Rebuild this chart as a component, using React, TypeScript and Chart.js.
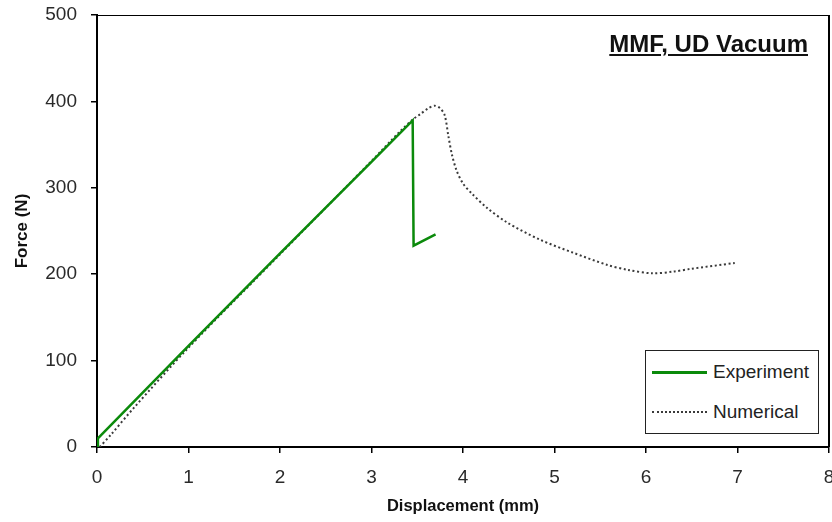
import React, { useEffect, useRef } from "react";
import { Chart, registerables } from "chart.js";

Chart.register(...registerables);

const expX = [0, 0.01, 1, 2, 3, 3.45, 3.46, 3.7];
const expY = [0, 10, 117, 224, 330, 378, 233, 246];

const numX = [0.03, 0.15, 0.4, 1, 2, 3, 3.3, 3.45, 3.53, 3.62, 3.69, 3.75, 3.8, 3.84, 3.88, 3.93, 4.0, 4.1, 4.26, 4.48, 4.84, 5.2, 5.57, 5.8, 6.07, 6.3, 6.48, 6.97];
const numY = [0, 14, 45, 115, 223, 331, 364, 379, 385, 392, 395, 392, 384, 360, 338, 320, 305, 293, 277, 260, 240, 225, 211, 205, 201, 203, 206, 213];

const xTicks = [0, 1, 2, 3, 4, 5, 6, 7, 8];
const yTicks = [0, 100, 200, 300, 400, 500];

const titleText = "MMF, UD Vacuum";
const xTitle = "Displacement (mm)";
const yTitle = "Force (N)";
const legendLabels = ["Experiment", "Numerical"];

const GREEN = "#0b8a0b";
const DOT = "#3a3a3a";
const FONT = "'Liberation Sans', Arial, sans-serif";

const framePlugin = {
  id: "frame",
  afterDatasetsDraw(chart: any) {
    const { ctx, chartArea: a } = chart;
    ctx.save();
    ctx.strokeStyle = "#000";
    ctx.lineWidth = 1;
    ctx.beginPath();
    ctx.moveTo(a.left, a.top + 0.5);
    ctx.lineTo(a.right, a.top + 0.5);
    ctx.stroke();
    ctx.lineWidth = 2;
    ctx.beginPath();
    ctx.moveTo(a.right, a.top);
    ctx.lineTo(a.right, a.bottom);
    ctx.stroke();
    ctx.restore();
  },
};

export default function App() {
  const ref = useRef<HTMLCanvasElement>(null);
  useEffect(() => {
    const chart = new Chart(ref.current!, {
      type: "line",
      data: {
        datasets: [
          {
            label: legendLabels[0],
            data: expX.map((x, i) => ({ x, y: expY[i] })),
            borderColor: GREEN,
            borderWidth: 2.5,
            pointRadius: 0,
            tension: 0,
          },
          {
            label: legendLabels[1],
            data: numX.map((x, i) => ({ x, y: numY[i] })),
            borderColor: DOT,
            borderWidth: 2,
            borderDash: [2, 2.6],
            pointRadius: 0,
            tension: 0.3,
          },
        ],
      },
      options: {
        animation: false,
        responsive: false,
        layout: { padding: { left: 0, right: 3, top: 15, bottom: 0 } },
        plugins: { legend: { display: false }, tooltip: { enabled: false } },
        scales: {
          x: {
            type: "linear",
            min: 0,
            max: 8,
            afterBuildTicks: (s: any) => {
              s.ticks = xTicks.map((v) => ({ value: v }));
            },
            afterFit: (s: any) => {
              s.height = 75;
              s.paddingRight = 0;
              s.paddingLeft = 0;
            },
            ticks: { font: { family: FONT, size: 19 }, color: "#2a2a2a", padding: 13, maxRotation: 0 },
            grid: { drawOnChartArea: false, drawTicks: true, tickLength: 6, color: "#000", lineWidth: 1.5 },
            border: { display: true, color: "#000", width: 2 },
            title: { display: true, text: xTitle, font: { family: FONT, size: 16.5, weight: "bold" }, color: "#111", padding: { top: 0, bottom: 6 } },
          },
          y: {
            type: "linear",
            min: 0,
            max: 500,
            afterBuildTicks: (s: any) => {
              s.ticks = yTicks.map((v) => ({ value: v }));
            },
            afterFit: (s: any) => {
              s.width = 97;
              s.paddingTop = 0;
              s.paddingBottom = 0;
            },
            ticks: { font: { family: FONT, size: 19 }, color: "#2a2a2a", padding: 14 },
            grid: { drawOnChartArea: false, drawTicks: true, tickLength: 6, color: "#000", lineWidth: 1.5 },
            border: { display: true, color: "#000", width: 2 },
            title: { display: true, text: yTitle, font: { family: FONT, size: 17, weight: "bold" }, color: "#111", padding: { top: 12, bottom: 0 } },
          },
        },
      },
      plugins: [framePlugin],
    } as any);
    return () => chart.destroy();
  }, []);

  return (
    <div style={{ position: "absolute", left: 0, top: 0, width: 832, height: 522, background: "#fff" }}>
      <canvas ref={ref} width={832} height={522} style={{ width: 832, height: 522, display: "block" }} />
      <div
        style={{
          position: "absolute",
          right: 24,
          top: 30,
          fontFamily: FONT,
          fontWeight: "bold",
          fontSize: 24,
          color: "#111",
          textDecoration: "underline",
          whiteSpace: "nowrap",
        }}
      >
        {titleText}
      </div>
      <div
        style={{
          position: "absolute",
          left: 645,
          top: 350,
          width: 174,
          height: 84,
          border: "1px solid #222",
          background: "#fff",
          fontFamily: FONT,
          fontSize: 19,
          color: "#222",
          boxSizing: "border-box",
        }}
      >
        <div style={{ position: "absolute", left: 6, top: 10, display: "flex", alignItems: "center" }}>
          <div style={{ width: 55, height: 0, borderTop: `3px solid ${GREEN}`, marginRight: 6 }} />
          <span>{legendLabels[0]}</span>
        </div>
        <div style={{ position: "absolute", left: 6, top: 50, display: "flex", alignItems: "center" }}>
          <div style={{ width: 55, height: 0, borderTop: `2px dotted ${DOT}`, marginRight: 6 }} />
          <span>{legendLabels[1]}</span>
        </div>
      </div>
    </div>
  );
}
